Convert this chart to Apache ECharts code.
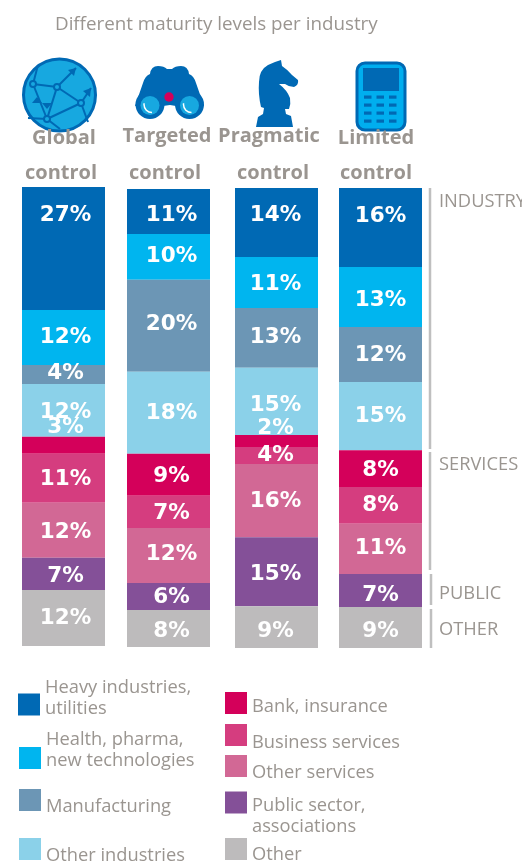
<!DOCTYPE html>
<html><head><meta charset="utf-8">
<style>html,body{margin:0;padding:0;background:#fff}#c{width:522px;height:864px}</style>
<script src="https://cdn.jsdelivr.net/npm/echarts@6/dist/echarts.min.js"></script>
</head><body><div id="c"></div>
<script>
const titleText = "Different maturity levels per industry";
const levels = ["Global", "Targeted", "Pragmatic", "Limited"];
const levelWord = "control";

// Share per control level
const heavy    = [26.8,  9.8, 15.0, 17.2];
const health   = [12.0, 10.0, 11.1, 13.0];
const manuf    = [ 4.1, 20.1, 13.0, 12.0];
const otherInd = [11.5, 17.9, 14.6, 14.8];
const bank     = [ 3.7,  9.2,  2.6,  8.0];
const business = [10.7,  7.0,  3.7,  8.0];
const otherSvc = [12.0, 12.0, 15.9, 10.9];
const publicS  = [ 7.0,  5.9, 15.0,  7.2];
const other    = [12.2,  8.1,  9.1,  8.9];

// Printed labels
const heavyLbl    = [27, 11, 14, 16];
const healthLbl   = [12, 10, 11, 13];
const manufLbl    = [ 4, 20, 13, 12];
const otherIndLbl = [12, 18, 15, 15];
const bankLbl     = [ 3,  9,  2,  8];
const businessLbl = [11,  7,  4,  8];
const otherSvcLbl = [12, 12, 16, 11];
const publicLbl   = [ 7,  6, 15,  7];
const otherLbl    = [12,  8,  9,  9];

const seriesNames = ["Heavy industries,\nutilities","Health, pharma,\nnew technologies","Manufacturing","Other industries","Bank, insurance","Business services","Other services","Public sector,\nassociations","Other"];
const groupNames = ["INDUSTRY","SERVICES","PUBLIC","OTHER"];

const colors = ["#0069B4","#00B5EF","#6C96B5","#8BD1E9","#D4005A","#D53D7F","#D26895","#845098","#BDBBBC"];
const TXT = "#9A9590";
const FONT = "Open Sans";

const seriesValues = [heavy,health,manuf,otherInd,bank,business,otherSvc,publicS,other];
const seriesLabels = [heavyLbl,healthLbl,manufLbl,otherIndLbl,bankLbl,businessLbl,otherSvcLbl,publicLbl,otherLbl];

// Layout
const gridBox = [{l:22,t:187,h:459,dx:2},{l:127,t:189,h:458,dx:3},{l:235,t:188,h:460,dx:-1},{l:339,t:188,h:460,dx:0}];
const labelDy = [
 [-35.5,-2.5,-3.5,0.5,-19.5,-0.5,0.5,0,-2],
 [1.5,-2,-3,-1,0,0,-2.5,-0.5,0.5],
 [-9.5,-0.5,-3,1.5,-15,-2.5,-1.5,0.5,2],
 [-13.5,1,-1.5,-2,-0.5,-1.5,-2,2.5,1.5]
];
const legendPos = [
 {l:18,cy:705,shift:-6,adj:5,n:2},{l:19,cy:758,shift:-7.5,adj:6,n:2},{l:19,cy:801,shift:7,adj:6,n:1},{l:19,cy:850,shift:7,adj:6,n:1},
 {l:225,cy:703,shift:4,adj:2,n:1},{l:225,cy:735,shift:8,adj:6,n:1},{l:225,cy:767,shift:7,adj:6,n:1},{l:225,cy:802,shift:14,adj:12,n:2},{l:225,cy:850,shift:6,adj:5,n:1}
];
const headPos = [[64,138,61,173.5],[167,136,165,173.5],[269,136,273,173.5],[376,138.5,376,173.5]];
const brackets = [[430,188,449],[430,452,570],[431,574,605],[431,609,648]];
const groupY = [202,465,594,630];

const grids=[],xAxes=[],yAxes=[],series=[];
levels.forEach((lv,c)=>{
  const b=gridBox[c];
  grids.push({left:b.l,top:b.t,width:83,height:b.h});
  xAxes.push({type:'category',gridIndex:c,data:[lv+" "+levelWord],show:false});
  const total=seriesValues.reduce((s,a)=>s+a[c],0);
  yAxes.push({type:'value',gridIndex:c,min:0,max:total,inverse:true,show:false});
  seriesValues.forEach((vals,s)=>{
    series.push({type:'bar',name:seriesNames[s],xAxisIndex:c,yAxisIndex:c,stack:'s'+c,barWidth:'100%',
      itemStyle:{color:colors[s]},
      data:[vals[c]],
      label:{show:true,position:'inside',offset:[b.dx,labelDy[c][s]+2],color:'#fff',fontFamily:'DejaVu Sans',fontWeight:'bold',fontSize:21.5,
        formatter:seriesLabels[s][c]+'%'}
    });
  });
});

const legends=seriesNames.map((nm,i)=>{
  const p=legendPos[i], pad=Math.abs(p.shift)*2;
  const rows=nm.split('\n');
  return {show:true,orient:'vertical',data:[nm],left:p.l,top:p.cy-Math.max(11,p.n*21/2)-p.adj,padding:0,itemWidth:22,itemHeight:22,icon:'rect',selectedMode:false,
    formatter:()=>rows.map(r=>'{t|'+r+'}').join('\n'),
    textStyle:{color:TXT,fontFamily:FONT,fontSize:18.3,
      rich:{t:{lineHeight:21,padding:p.shift>0?[pad,0,0,0]:[0,0,pad,0]}}}};
});

echarts.graphic.registerShape('binoBody',echarts.graphic.extendPath("M150 74 Q151 66 158 66 Q164 66 167 69 L172 69 Q175 66 181 66 Q188 66 189 74 Q194 76 196 83 L204 106 L176 106 L170 105 L163 106 L135 106 L143 83 Q145 76 150 74 Z",{}));
echarts.graphic.registerShape('knight',echarts.graphic.extendPath("M281 60 L282 66 Q288 70 292 75 L298 80 Q299 85 294 87 Q289 87 285 84 L279 84 Q287 90 290 98 Q291 104 289 109 L285 109 L286 114 L291 116 L293 127 L256 127 L258 117 L263 114 L264 108 L261 107 Q258 94 259 82 Q259 70 268 65 Q274 62 281 60 Z",{}));

const blue="#0069B4", sky="#17A8E0";
const gfx=[];
// Globe
gfx.push({type:'circle',shape:{cx:59.5,cy:95,r:36},style:{fill:sky,stroke:blue,lineWidth:3}});
[[33,84,57,87],[57,87,81,103],[33,84,47,119],[57,87,47,119],[47,119,81,103],[57,87,76,68],[81,103,91,88],[33,84,38,65],[47,119,60,129],[47,119,28,118],[81,103,88,122]].forEach(a=>{
  gfx.push({type:'line',shape:{x1:a[0],y1:a[1],x2:a[2],y2:a[3]},style:{stroke:blue,lineWidth:2}});
});
[[33,84],[57,87],[81,103],[47,119]].forEach(a=>gfx.push({type:'circle',shape:{cx:a[0],cy:a[1],r:3},style:{fill:sky,stroke:blue,lineWidth:2}}));
[[76,68,68,70,74,76],[91,88,83,91,90,97],[37,97,32,103,42,103],[47,109,42,103,52,103]].forEach(a=>gfx.push({type:'polygon',shape:{points:[[a[0],a[1]],[a[2],a[3]],[a[4],a[5]]]},style:{fill:blue}}));
// Binoculars
gfx.push({type:'binoBody',style:{fill:blue}});
[[150,104.5],[189.5,104.5]].forEach(a=>{
  gfx.push({type:'circle',shape:{cx:a[0],cy:a[1],r:14.5},style:{fill:blue}});
  gfx.push({type:'circle',shape:{cx:a[0],cy:a[1]+1,r:9.5},style:{fill:sky}});
  gfx.push({type:'arc',shape:{cx:a[0]+2,cy:a[1],r:8,startAngle:Math.PI*0.5,endAngle:Math.PI*1.05,clockwise:true},style:{fill:null,stroke:'#fff',lineWidth:1.5}});
});
gfx.push({type:'circle',shape:{cx:169,cy:97,r:4.7},style:{fill:'#D4005A'}});
// Knight
gfx.push({type:'knight',style:{fill:blue}});
// Calculator
gfx.push({type:'rect',shape:{x:357,y:63,width:48,height:67,r:8},style:{fill:'#00AEEF',stroke:blue,lineWidth:3}});
gfx.push({type:'rect',shape:{x:363,y:68,width:36,height:23},style:{fill:blue}});
[97,105,113,121].forEach(y=>[364,376.5,389].forEach(x=>gfx.push({type:'rect',shape:{x:x,y:y-1.5,width:7.5,height:3.2},style:{fill:blue}})));
// Column heads
levels.forEach((lv,i)=>{
  const p=headPos[i];
  [[lv,p[0],p[1]],[levelWord,p[2],p[3]]].forEach(t=>gfx.push({type:'text',z:10,style:{text:t[0],x:t[1],y:t[2],align:'center',verticalAlign:'middle',fill:TXT,font:'bold 20px "Open Sans"'}}));
});
// Brackets and group names
brackets.forEach(b=>gfx.push({type:'line',shape:{x1:b[0],y1:b[1],x2:b[0],y2:b[2]},style:{stroke:'#BFBFBF',lineWidth:2.5}}));
groupNames.forEach((g,i)=>gfx.push({type:'text',style:{text:g,x:439,y:groupY[i],verticalAlign:'middle',fill:TXT,font:'18.3px "Open Sans"'}}));

const chart=echarts.init(document.getElementById('c'),null,{renderer:'canvas'});
chart.setOption({
  animation:false,backgroundColor:'#fff',
  title:{text:titleText,left:55,top:15,padding:0,textStyle:{color:TXT,fontFamily:FONT,fontSize:18.8,fontWeight:'normal'}},
  grid:grids,xAxis:xAxes,yAxis:yAxes,series:series,legend:legends,graphic:gfx
});
</script></body></html>
